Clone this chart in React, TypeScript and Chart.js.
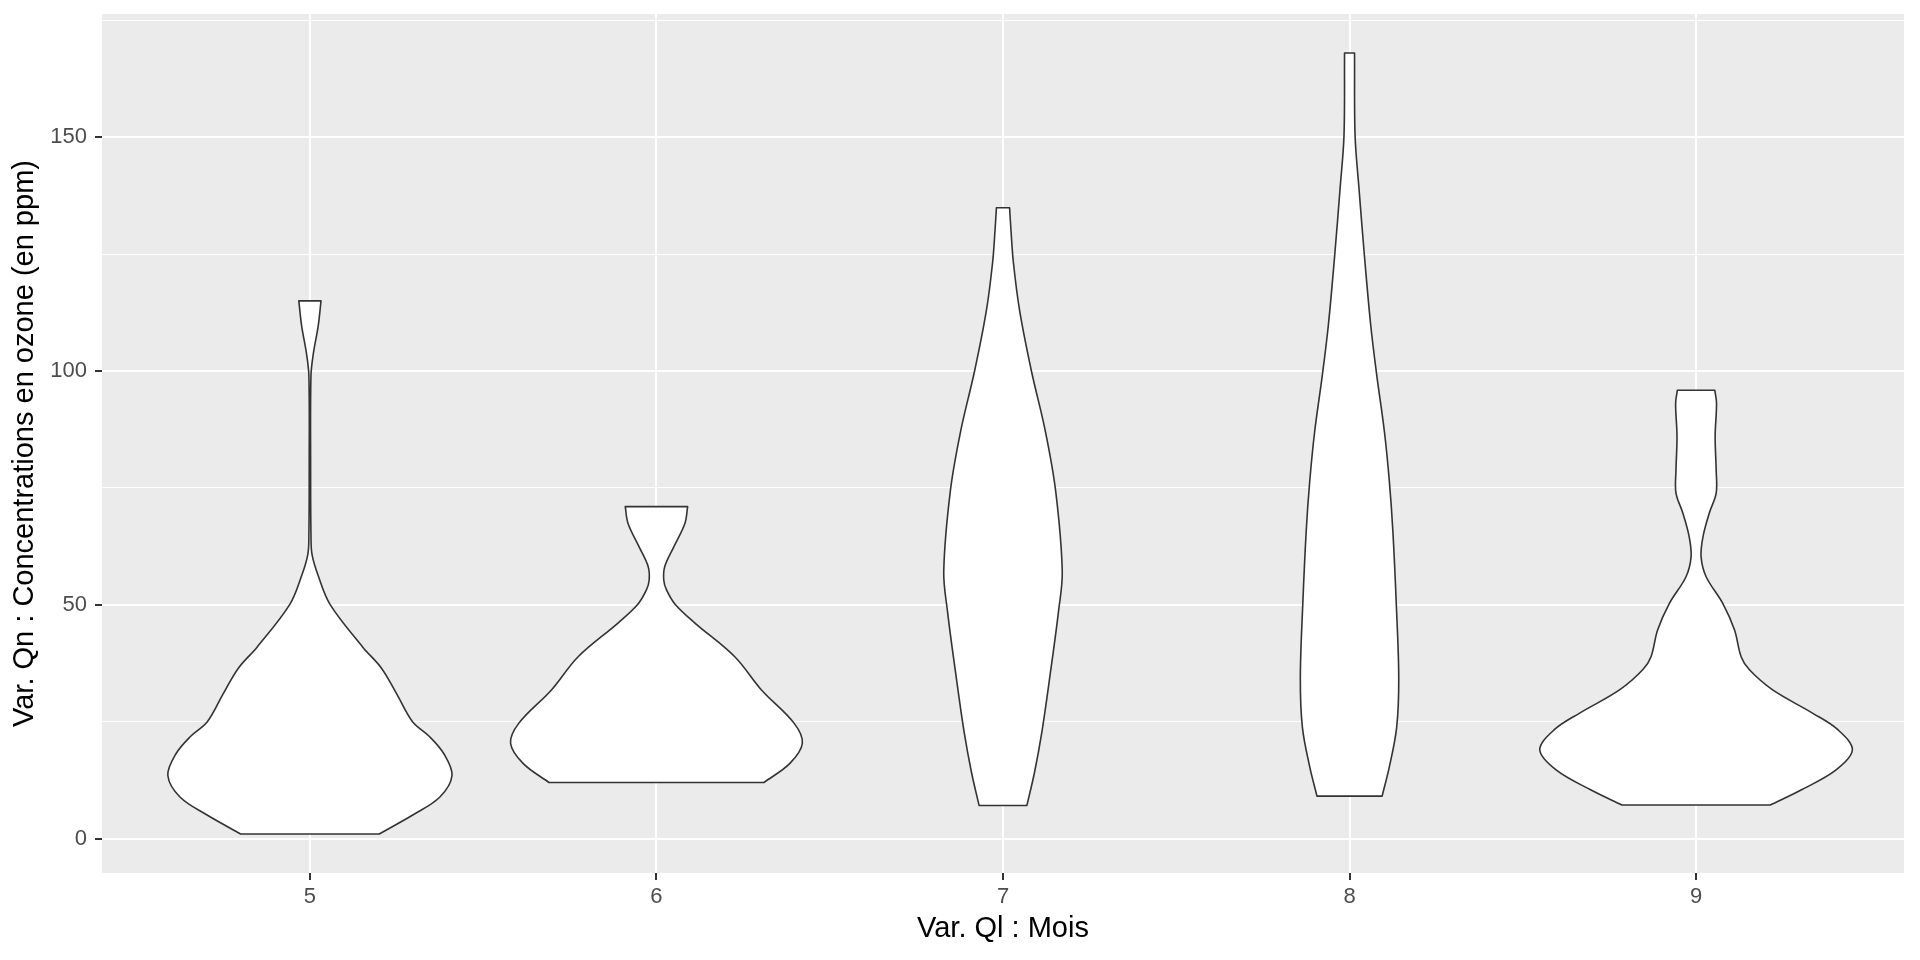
import React, { useEffect, useRef } from "react";
import { Chart, registerables } from "chart.js";

Chart.register(...registerables);

// Categories (months) and axis ticks
const months = [5, 6, 7, 8, 9];
const yMajorTicks = [0, 50, 100, 150];
const yMinorTicks = [25, 75, 125, 175];

// Violin outlines: ozone levels (ppm) and half-width (in x units)
const mayLevels = [1, 5.1, 8.9, 13.5, 18.1, 21.9, 25.0, 31.0, 36.4, 41.0, 50.1, 56.2, 60.8, 65, 80, 99.0, 103.6, 109.7, 115];
const mayHalfWidths = [0.2, 0.298, 0.375, 0.41, 0.387, 0.344, 0.296, 0.25, 0.207, 0.152, 0.058, 0.024, 0.006, 0.003, 0.002, 0.003, 0.0096, 0.024, 0.032];

const juneLevels = [12.0, 16.1, 20.4, 24.7, 31.8, 38.9, 46.1, 50.0, 53.2, 55.3, 58.2, 62.4, 67.4, 71.0];
const juneHalfWidths = [0.31, 0.385, 0.421, 0.397, 0.303, 0.226, 0.111, 0.055, 0.029, 0.021, 0.024, 0.05, 0.082, 0.09];

const julyLevels = [7.1, 14.2, 22.7, 35.6, 48.5, 57.1, 74.3, 87.2, 100.0, 112.9, 123.2, 130.1, 134.9];
const julyHalfWidths = [0.069, 0.091, 0.112, 0.137, 0.16, 0.171, 0.152, 0.122, 0.082, 0.048, 0.03, 0.023, 0.019];

const augustLevels = [9.1, 15.4, 23.8, 34.3, 50.0, 65.8, 76.3, 86.8, 99.4, 109.9, 124.6, 139.3, 150.3, 168];
const augustHalfWidths = [0.094, 0.115, 0.136, 0.142, 0.135, 0.125, 0.115, 0.101, 0.078, 0.061, 0.043, 0.027, 0.016, 0.0144];

const septemberLevels = [7.2, 10.4, 14.7, 19.0, 23.3, 26.8, 31.8, 36.1, 38.9, 44.6, 50.3, 56.0, 60.3, 64.6, 69.6, 73.9, 78.8, 86.0, 93.1, 95.9];
const septemberHalfWidths = [0.214, 0.303, 0.404, 0.451, 0.409, 0.337, 0.221, 0.154, 0.13, 0.111, 0.077, 0.029, 0.0144, 0.02, 0.038, 0.058, 0.058, 0.055, 0.059, 0.054];

const violinLevels = [mayLevels, juneLevels, julyLevels, augustLevels, septemberLevels];
const violinHalfWidths = [mayHalfWidths, juneHalfWidths, julyHalfWidths, augustHalfWidths, septemberHalfWidths];

const xTitle = "Var. Ql : Mois";
const yTitle = "Var. Qn : Concentrations en ozone (en ppm)";

function violinOutline(center: number, levels: number[], half: number[]) {
  const n = levels.length;
  const left = (i: number) => ({ x: center - half[i], y: levels[i] });
  const right = (i: number) => ({ x: center + half[i], y: levels[i] });
  const pts: { x: number; y: number }[] = [];
  pts.push(left(0));
  for (let i = 1; i < n - 1; i++) pts.push(left(i));
  pts.push(left(n - 1), left(n - 1));
  pts.push(right(n - 1), right(n - 1));
  for (let i = n - 2; i >= 1; i--) pts.push(right(i));
  pts.push(right(0), right(0));
  pts.push(left(0));
  return pts;
}

const FONT = '"Liberation Sans", Arial, sans-serif';

export default function App() {
  const ref = useRef<HTMLCanvasElement>(null);

  useEffect(() => {
    document.body.style.margin = "0";
    const panelBg = {
      id: "panelBg",
      beforeDraw(chart: any) {
        const { ctx, chartArea } = chart;
        ctx.save();
        ctx.fillStyle = "#EBEBEB";
        ctx.fillRect(chartArea.left, chartArea.top, chartArea.right - chartArea.left, chartArea.bottom - chartArea.top);
        ctx.restore();
      },
    };

    const datasets = months.map((m, i) => ({
      label: String(m),
      data: violinOutline(m, violinLevels[i], violinHalfWidths[i]),
      borderColor: "#333333",
      borderWidth: 1.6,
      backgroundColor: "#FFFFFF",
      fill: "shape",
      pointRadius: 0,
      pointHoverRadius: 0,
      tension: 0.35,
      borderJoinStyle: "round",
      borderCapStyle: "round",
    }));

    const chart = new Chart(ref.current as HTMLCanvasElement, {
      type: "line",
      data: { datasets } as any,
      options: {
        responsive: false,
        devicePixelRatio: 1,
        animation: false,
        events: [],
        layout: { padding: { top: 14, right: 16, bottom: 0, left: 0 } },
        plugins: { legend: { display: false }, tooltip: { enabled: false } },
        scales: {
          x: {
            type: "linear",
            min: 4.4,
            max: 9.6,
            afterBuildTicks: (s: any) => {
              s.ticks = months.map((v) => ({ value: v }));
            },
            afterFit: (s: any) => {
              s.height = 87;
              s.paddingLeft = 0;
              s.paddingRight = 0;
            },
            border: { display: false },
            grid: {
              color: "#FFFFFF",
              lineWidth: 2,
              drawTicks: true,
              tickLength: 7,
              tickColor: "#333333",
              tickWidth: 2,
            },
            ticks: {
              font: { family: FONT, size: 22 },
              color: "#4D4D4D",
              padding: 4,
              maxRotation: 0,
              autoSkip: false,
              callback: (v: any) => String(v),
            },
            title: {
              display: true,
              text: xTitle,
              font: { family: FONT, size: 29 },
              color: "#000000",
              padding: { top: 0, bottom: 14 },
            },
          },
          y: {
            type: "linear",
            min: -7.35,
            max: 176.35,
            afterBuildTicks: (s: any) => {
              s.ticks = [...yMajorTicks, ...yMinorTicks].sort((a, b) => a - b).map((v) => ({ value: v }));
            },
            afterFit: (s: any) => {
              s.width = 102;
              s.paddingTop = 0;
              s.paddingBottom = 0;
            },
            border: { display: false },
            grid: {
              color: "#FFFFFF",
              lineWidth: (c: any) => (yMajorTicks.includes(c.tick?.value) ? 2 : 1),
              drawTicks: true,
              tickLength: 7,
              tickColor: (c: any) => (yMajorTicks.includes(c.tick?.value) ? "#333333" : "rgba(0,0,0,0)"),
              tickWidth: 2,
            },
            ticks: {
              font: { family: FONT, size: 22 },
              color: "#4D4D4D",
              padding: 8,
              autoSkip: false,
              callback: (v: any) => (yMajorTicks.includes(v) ? String(v) : ""),
            },
            title: {
              display: true,
              text: yTitle,
              font: { family: FONT, size: 29 },
              color: "#000000",
              padding: { top: 8, bottom: 0 },
            },
          },
        },
      } as any,
      plugins: [panelBg],
    });
    return () => chart.destroy();
  }, []);

  return <canvas ref={ref} width={1920} height={960} style={{ display: "block", width: 1920, height: 960 }} />;
}
